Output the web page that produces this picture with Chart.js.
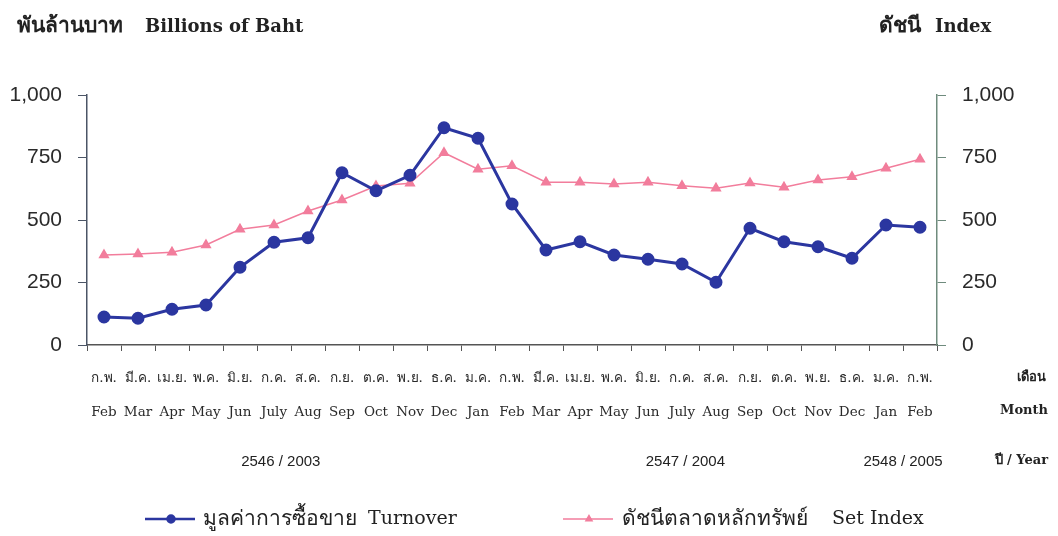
<!DOCTYPE html>
<html>
<head>
<meta charset="utf-8">
<script src="https://cdn.jsdelivr.net/npm/chart.js@4.4.1/dist/chart.umd.min.js"></script>
<style>
  html, body { margin: 0; background: #fff; }
  #wrap { width: 1058px; height: 536px; }
</style>
</head>
<body>
<div id="wrap"><canvas id="c"></canvas></div>
<script>
// Monthly data, Feb 2003 - Feb 2005
const monthsTh = ["ก.พ.", "มี.ค.", "เม.ย.", "พ.ค.", "มิ.ย.", "ก.ค.", "ส.ค.", "ก.ย.", "ต.ค.", "พ.ย.", "ธ.ค.", "ม.ค.",
                  "ก.พ.", "มี.ค.", "เม.ย.", "พ.ค.", "มิ.ย.", "ก.ค.", "ส.ค.", "ก.ย.", "ต.ค.", "พ.ย.", "ธ.ค.", "ม.ค.", "ก.พ."];
const monthsEn = ["Feb", "Mar", "Apr", "May", "Jun", "July", "Aug", "Sep", "Oct", "Nov", "Dec", "Jan",
                  "Feb", "Mar", "Apr", "May", "Jun", "July", "Aug", "Sep", "Oct", "Nov", "Dec", "Jan", "Feb"];
const turnover = [112, 107, 143, 160, 311, 411, 429, 689, 617, 679, 869, 827,
                  564, 380, 413, 360, 343, 324, 251, 467, 413, 393, 347, 480, 471];
const setIndex = [360, 364, 371, 400, 463, 480, 536, 580, 636, 647, 769, 703,
                  717, 651, 651, 644, 651, 637, 627, 648, 631, 660, 673, 707, 743];
const yTicks = [0, 250, 500, 750, 1000];
const years = ["2546 / 2003", "2547 / 2004", "2548 / 2005"];

// where the year captions sit (category index, fractional)
const YEAR_AT = [5.2, 17.1, 23.5];
const C = { blue: "#2b36a0", pink: "#f27d9c", axisL: "#4b5566", axisR: "#6f8b7d", text: "#2a2a2a" };
const SERIF = "'DejaVu Serif', 'Liberation Serif', serif";
const TSERIF = "'Liberation Serif', serif";
const NARROW = "'Liberation Sans Narrow', 'Liberation Sans', sans-serif";

const fixedTicks = scale => { scale.ticks = yTicks.map(v => ({ value: v })); };
const fmt = v => v.toLocaleString("en-US");

// draws Thai part + English part at given x positions
function pair(ctx, th, en, xTh, xEn, y, thFont, enFont) {
  ctx.font = thFont; ctx.fillText(th, xTh, y);
  ctx.font = enFont; ctx.fillText(en, xEn, y);
}

// titles, year row, right-side captions and the legend
const extras = {
  id: "extras",
  afterDraw(chart) {
    const { ctx, scales: { x } } = chart;
    ctx.save();
    ctx.fillStyle = "#222";
    ctx.textBaseline = "middle";
    ctx.textAlign = "left";
    pair(ctx, "พันล้านบาท", "Billions of Baht", 17, 145, 27, "bold 21px " + TSERIF, "bold 18px " + SERIF);
    pair(ctx, "ดัชนี", "Index", 879, 935, 27, "bold 21px " + TSERIF, "bold 18px " + SERIF);

    ctx.font = "15px " + NARROW;
    ctx.textAlign = "center";
    years.forEach((t, i) => ctx.fillText(t, x.getPixelForValue(YEAR_AT[i]), 462));

    ctx.font = "bold 13px " + SERIF;
    ctx.textAlign = "right";
    ctx.fillText("เดือน", 1046, 378);
    ctx.fillText("Month", 1048, 411);
    ctx.fillText("ปี / Year", 1048, 461);

    // legend: short line with marker, then label
    const items = [
      { x: 145, color: C.blue, width: 2.5, style: "circle", th: "มูลค่าการซื้อขาย", thX: 203, en: "Turnover", enX: 368 },
      { x: 563, color: C.pink, width: 1.5, style: "triangle", th: "ดัชนีตลาดหลักทรัพย์", thX: 622, en: "Set Index", enX: 832 },
    ];
    const ly = 519;
    items.forEach(it => {
      ctx.strokeStyle = it.color;
      ctx.lineWidth = it.width;
      ctx.beginPath(); ctx.moveTo(it.x, ly); ctx.lineTo(it.x + 50, ly); ctx.stroke();
      ctx.fillStyle = it.color;
      Chart.helpers.drawPoint(ctx, { pointStyle: it.style, radius: 3.5, borderWidth: 1 }, it.x + 26, ly);
      ctx.fillStyle = "#222";
      ctx.textAlign = "left";
      pair(ctx, it.th, it.en, it.thX, it.enX, ly, "21px " + TSERIF, "19px " + SERIF);
    });
    ctx.restore();
  },
};

new Chart(document.getElementById("c"), {
  type: "line",
  data: {
    labels: monthsTh.map((t, i) => [t, monthsEn[i]]),
    datasets: [
      {
        label: "Turnover", data: turnover, yAxisID: "y",
        borderColor: C.blue, backgroundColor: C.blue, borderWidth: 3,
        pointStyle: "circle", pointRadius: 5, tension: 0,
      },
      {
        label: "Set Index", data: setIndex, yAxisID: "y1",
        borderColor: C.pink, backgroundColor: C.pink, borderWidth: 1.5,
        pointStyle: "triangle", pointRadius: 5, tension: 0,
      },
    ],
  },
  options: {
    responsive: true, maintainAspectRatio: false, animation: false, devicePixelRatio: 1,
    layout: { padding: { top: 95, left: 0, right: 0, bottom: 0 } },
    plugins: { legend: { display: false }, tooltip: { enabled: false } },
    scales: {
      x: {
        offset: true,
        grid: { offset: true, drawOnChartArea: false, drawTicks: true, tickLength: 6, color: "#555" },
        border: { color: "#555", width: 1.5 },
        ticks: {
          autoSkip: false, maxRotation: 0, padding: 10, color: C.text,
          font: { family: SERIF, size: 13.5, lineHeight: 2.55 },
        },
        afterFit: s => { s.height = 191; },
      },
      y: {
        position: "left", min: 0, max: 1000,
        afterBuildTicks: fixedTicks,
        grid: { drawOnChartArea: false, tickLength: 9, color: C.axisL },
        border: { color: C.axisL, width: 1.5 },
        ticks: { padding: 16, color: C.text, font: { family: NARROW, size: 21 }, callback: fmt },
        afterFit: s => { s.width = 87; },
      },
      y1: {
        position: "right", min: 0, max: 1000,
        afterBuildTicks: fixedTicks,
        grid: { drawOnChartArea: false, tickLength: 9, color: C.axisR },
        border: { color: C.axisR, width: 1.5 },
        ticks: { padding: 16, color: C.text, font: { family: NARROW, size: 21 }, callback: fmt },
        afterFit: s => { s.width = 121; },
      },
    },
  },
  plugins: [extras],
});
</script>
</body>
</html>
